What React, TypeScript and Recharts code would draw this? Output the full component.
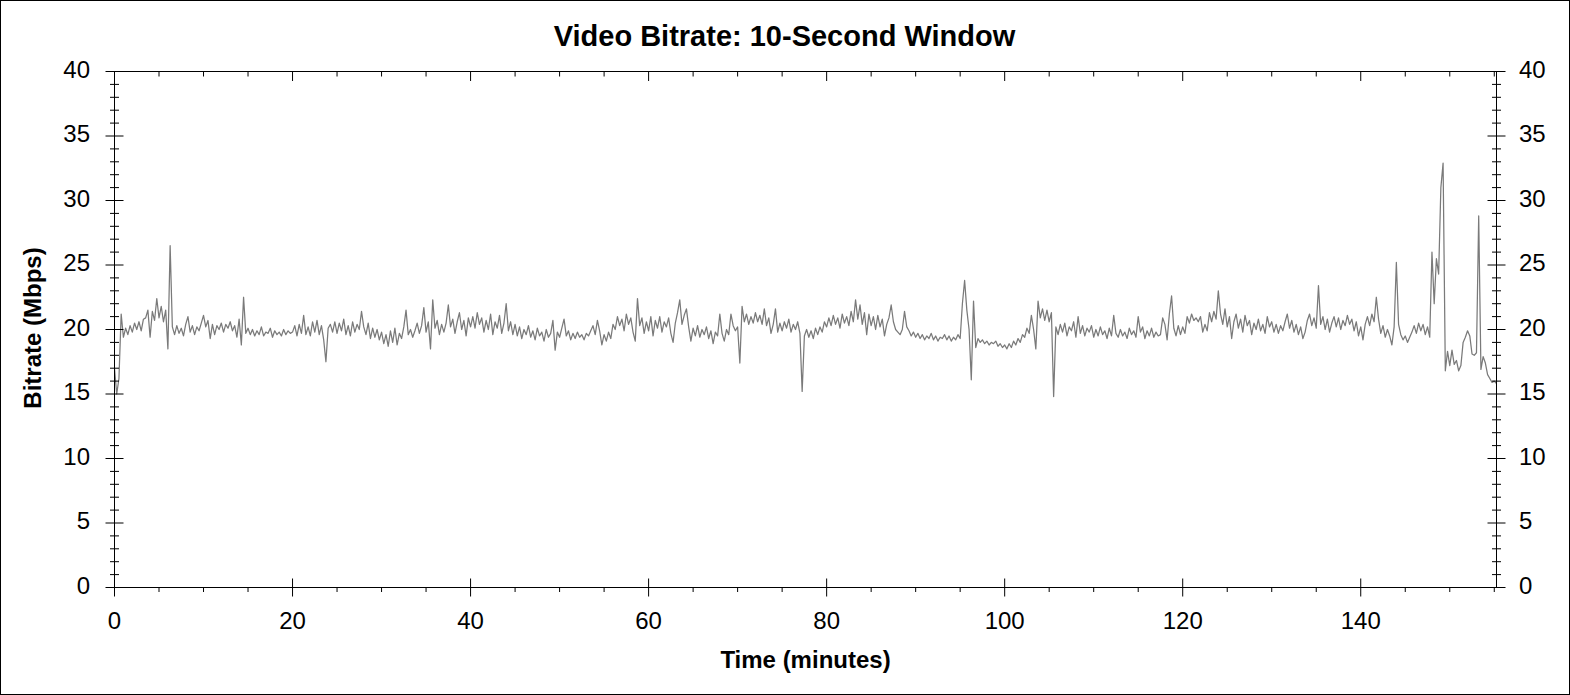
import React from 'react';
import { LineChart, Line, XAxis, YAxis } from 'recharts';

// Sampling grid of the bitrate trace (minutes)
const STEP_MIN = 0.25;

// Video bitrate (Mbps), one value every 0.25 min
const SEG_000_030 = [
  17.0, 15.0, 16.2, 21.2, 19.4, 20.1, 19.6, 20.3, 19.8, 20.5, 20.0, 20.6, 19.9, 20.8, 20.9, 21.5, 19.4, 21.4, 20.7, 22.4,
  20.9, 21.8, 20.6, 21.5, 18.5, 26.5, 20.2, 19.6, 20.3, 19.7, 20.1, 19.5, 20.4, 21.0, 19.8, 20.3, 19.6, 20.2, 19.9, 20.5,
  21.1, 20.2, 20.7, 19.3, 20.4, 19.6, 20.3, 20.0, 20.5, 19.8, 20.4, 20.1, 20.6, 19.9, 20.3, 19.4, 20.8, 18.8, 22.5, 19.7,
  20.1, 19.6, 20.0, 19.5, 19.9, 19.6, 20.2, 19.5, 19.8, 19.7, 20.1, 19.4, 19.9, 19.6, 19.8, 19.5, 20.0, 19.6, 19.9, 19.7,
  19.8, 20.3, 19.5, 20.4, 19.7, 21.1, 19.6, 20.2, 19.5, 20.6, 19.8, 20.7, 19.6, 20.3, 19.2, 17.5, 20.1, 20.4, 19.8, 20.6,
  19.7, 20.5, 19.9, 20.8, 19.6, 20.3, 19.5, 20.6, 19.8, 20.4, 20.0, 21.4, 20.2, 19.6, 20.5, 19.3, 20.1, 19.4, 20.0, 19.2,
];
const SEG_030_060 = [
  19.8, 18.9, 19.6, 18.7, 19.9, 19.0, 20.1, 18.8, 19.7, 19.3, 20.2, 21.5, 19.6, 20.0, 19.4, 19.9, 20.5, 19.7, 20.3, 21.7,
  19.8, 20.6, 18.5, 22.3, 20.1, 20.7, 19.6, 20.4, 19.8, 20.5, 21.9, 20.2, 20.8, 19.7, 20.6, 21.3, 20.0, 20.7, 19.5, 20.9,
  20.2, 21.0, 20.1, 21.3, 20.4, 20.9, 19.8, 20.7, 20.0, 21.2, 19.6, 20.6, 20.1, 21.1, 19.7, 20.5, 22.0, 19.9, 20.6, 19.6,
  20.4, 19.5, 20.2, 19.3, 20.0, 19.6, 20.3, 19.4, 19.9, 19.2, 20.1, 19.5, 19.8, 19.1, 20.0, 19.4, 19.7, 20.7, 18.4, 19.8,
  19.4, 20.1, 20.8, 19.5, 19.9, 19.2, 19.7, 19.3, 19.8, 19.4, 19.6, 19.2, 19.7, 19.5, 19.9, 20.3, 19.6, 20.7, 19.9, 18.8,
  19.6, 19.1, 19.8, 19.3, 20.4, 20.0, 21.0, 20.3, 20.8, 19.9, 21.2, 20.4, 20.9, 19.8, 19.1, 22.4, 20.3, 20.9, 19.7, 20.6,
];
const SEG_060_090 = [
  19.9, 21.0, 19.5, 20.7, 20.1, 21.0, 19.8, 20.6, 20.2, 20.9, 19.7, 19.0, 20.5, 21.3, 22.3, 20.4, 21.1, 21.6, 20.2, 19.1,
  20.1, 19.5, 20.3, 19.4, 20.0, 19.6, 20.2, 19.3, 19.9, 18.9, 19.8, 19.5, 21.2, 19.7, 19.1, 20.0, 19.6, 21.2, 20.3, 19.9,
  20.2, 17.4, 21.8, 20.6, 21.2, 20.4, 21.0, 20.5, 21.3, 20.6, 21.1, 20.4, 21.6, 20.3, 20.9, 19.7, 20.4, 21.6, 19.8, 20.5,
  19.9, 20.6, 20.1, 20.8, 19.8, 20.4, 20.0, 20.6, 19.7, 15.2, 19.5, 20.0, 19.4, 19.9, 19.3, 20.1, 19.6, 20.2, 19.8, 20.6,
  20.2, 20.9, 20.3, 21.1, 20.4, 20.9, 20.1, 21.2, 20.5, 21.0, 20.3, 21.4, 20.6, 22.3, 20.8, 21.9, 20.4, 21.3, 19.6, 21.2,
  20.3, 21.0, 20.0, 21.1, 20.2, 20.8, 19.5, 20.4, 20.9, 21.9, 20.6, 20.0, 19.8, 19.6, 20.0, 21.4, 20.2, 19.9, 19.5, 19.8,
];
const SEG_090_120 = [
  19.4, 19.7, 19.3, 19.6, 19.2, 19.5, 19.3, 19.7, 19.2, 19.5, 19.1, 19.4, 19.3, 19.6, 19.2, 19.5, 19.1, 19.4, 19.2, 19.6,
  19.3, 22.0, 23.8, 21.5, 20.0, 16.1, 22.2, 18.6, 19.3, 19.0, 19.2, 18.9, 19.1, 18.8, 19.0, 18.9, 19.1, 18.7, 18.9, 18.6,
  18.8, 18.5, 18.9, 18.6, 19.1, 18.8, 19.3, 19.0, 19.6, 19.4, 20.1, 19.7, 21.1, 20.0, 18.5, 22.2, 20.9, 21.6, 20.7, 21.5,
  20.6, 21.3, 14.8, 20.2, 19.6, 20.4, 19.8, 20.5, 19.5, 20.2, 19.9, 20.6, 19.4, 21.0, 19.7, 20.3, 19.5, 20.1, 19.8, 20.3,
  19.4, 20.0, 19.5, 20.2, 19.6, 19.9, 19.3, 20.1, 19.5, 21.1, 19.7, 19.4, 20.0, 19.5, 19.8, 19.3, 20.1, 19.6, 19.9, 19.4,
  21.0, 19.8, 20.2, 19.3, 19.9, 19.5, 20.1, 19.4, 19.8, 19.5, 19.6, 20.9, 20.4, 19.2, 21.2, 22.6, 20.1, 19.5, 20.3, 19.6,
];
const SEG_120_150 = [
  20.2, 19.7, 21.0, 20.5, 21.2, 20.7, 20.9, 20.6, 21.0, 19.8, 20.4, 19.9, 21.3, 20.6, 21.4, 20.8, 23.0, 21.2, 20.4, 21.6,
  20.2, 21.0, 19.3, 20.6, 21.2, 20.1, 20.8, 19.8, 21.1, 20.3, 20.7, 19.6, 20.5, 20.0, 20.8, 19.9, 20.4, 19.7, 21.0, 20.2,
  20.6, 19.8, 20.4, 19.7, 20.3, 19.9, 20.6, 21.2, 20.1, 20.7, 19.8, 20.4, 19.6, 20.2, 19.3, 19.8, 20.7, 21.2, 20.3, 20.9,
  20.1, 23.4, 20.4, 21.0, 20.0, 20.8, 19.8, 20.5, 21.0, 20.2, 20.9, 20.0, 20.7, 20.3, 21.1, 20.4, 20.8, 19.9, 20.6, 19.5,
  20.2, 19.2, 20.4, 21.0, 20.3, 21.2, 20.6, 22.5, 20.8, 19.7, 20.3, 19.4, 20.0, 19.5, 18.8, 20.2, 25.2, 20.4, 19.6, 19.2,
  19.5, 19.0, 19.4, 19.8, 20.3, 19.7, 20.5, 19.9, 20.4, 19.6, 20.2, 19.4, 26.0, 22.0, 25.5, 24.3, 31.0, 32.9, 16.8, 18.3,
];
const SEG_150_END = [
  17.2, 18.4, 17.3, 17.6, 16.8, 17.2, 19.0, 19.4, 19.9, 19.5, 18.1, 18.0, 18.2, 28.8, 16.9, 17.9, 17.4, 16.5, 16.2, 15.9,
  16.0, 15.8,
];

const BITRATE = [...SEG_000_030, ...SEG_030_060, ...SEG_060_090, ...SEG_090_120, ...SEG_120_150, ...SEG_150_END];
const data = BITRATE.map((v, i) => ({ t: i * STEP_MIN, v }));

const X_DOMAIN_MAX = 155.25;
const X_TICKS = [0, 5, 10, 15, 20, 25, 30, 35, 40, 45, 50, 55, 60, 65, 70, 75, 80, 85, 90, 95, 100, 105, 110, 115, 120, 125, 130, 135, 140, 145, 150, 155];
const X_LABELS = [0, 20, 40, 60, 80, 100, 120, 140];
const Y_TICKS = [0, 1, 2, 3, 4, 5, 6, 7, 8, 9, 10, 11, 12, 13, 14, 15, 16, 17, 18, 19, 20, 21, 22, 23, 24, 25, 26, 27, 28, 29, 30, 31, 32, 33, 34, 35, 36, 37, 38, 39, 40];
const Y_LABELS = [0, 5, 10, 15, 20, 25, 30, 35, 40];

const TITLE = 'Video Bitrate: 10-Second Window';
const X_TITLE = 'Time (minutes)';
const Y_TITLE = 'Bitrate (Mbps)';

const FONT = '"Liberation Sans", Arial, Helvetica, sans-serif';

function LeftTick(props: any) {
  const { x, y, payload } = props;
  const v = payload.value;
  const major = Y_LABELS.includes(v);
  const h = major ? 9 : 4.5;
  return (
    <g>
      <line x1={x - h} x2={x + h} y1={y} y2={y} stroke="#000" strokeWidth={1} />
      {major && (
        <text x={x - 24.5} y={y + 6} textAnchor="end" fontSize={24} fontFamily={FONT} fill="#000">
          {v}
        </text>
      )}
    </g>
  );
}

function RightTick(props: any) {
  const { x, y, payload } = props;
  const v = payload.value;
  const major = Y_LABELS.includes(v);
  const h = major ? 9 : 4.5;
  return (
    <g>
      <line x1={x - h} x2={x + h} y1={y} y2={y} stroke="#000" strokeWidth={1} />
      {major && (
        <text x={x + 22.5} y={y + 6} textAnchor="start" fontSize={24} fontFamily={FONT} fill="#000">
          {v}
        </text>
      )}
    </g>
  );
}

function BottomTick(props: any) {
  const { x, y, payload } = props;
  const v = payload.value;
  const major = X_LABELS.includes(v);
  return (
    <g>
      {major ? (
        <line x1={x} x2={x} y1={y - 9} y2={y + 9} stroke="#000" strokeWidth={1} />
      ) : (
        <line x1={x} x2={x} y1={y} y2={y + 4.5} stroke="#000" strokeWidth={1} />
      )}
      {major && (
        <text x={x} y={y + 41} textAnchor="middle" fontSize={24} fontFamily={FONT} fill="#000">
          {v}
        </text>
      )}
    </g>
  );
}

function TopTick(props: any) {
  const { x, y, payload } = props;
  const v = payload.value;
  const major = X_LABELS.includes(v);
  return <line x1={x} x2={x} y1={y} y2={y + (major ? 9.5 : 5)} stroke="#000" strokeWidth={1} />;
}

export default function App() {
  return (
    <div style={{ position: 'absolute', left: 0, top: 0, width: 1570, height: 695, background: '#fff' }}>
      <LineChart width={1570} height={695} data={data} margin={{ top: 0, right: 0, bottom: 0, left: 0 }}>
        <XAxis
          xAxisId="bottom"
          dataKey="t"
          type="number"
          domain={[0, X_DOMAIN_MAX]}
          allowDataOverflow
          ticks={X_TICKS}
          interval={0}
          height={107.5}
          orientation="bottom"
          axisLine={{ stroke: '#000', strokeWidth: 1 }}
          tickLine={false}
          tickSize={0}
          tickMargin={0}
          tick={BottomTick}
        />
        <XAxis
          xAxisId="top"
          dataKey="t"
          type="number"
          domain={[0, X_DOMAIN_MAX]}
          allowDataOverflow
          ticks={X_TICKS}
          interval={0}
          height={71.5}
          orientation="top"
          axisLine={{ stroke: '#000', strokeWidth: 1 }}
          tickLine={false}
          tickSize={0}
          tickMargin={0}
          tick={TopTick}
        />
        <YAxis
          yAxisId="left"
          type="number"
          domain={[0, 40]}
          allowDataOverflow
          ticks={Y_TICKS}
          interval={0}
          width={114.5}
          orientation="left"
          axisLine={{ stroke: '#000', strokeWidth: 1 }}
          tickLine={false}
          tickSize={0}
          tickMargin={0}
          tick={LeftTick}
        />
        <YAxis
          yAxisId="right"
          type="number"
          domain={[0, 40]}
          allowDataOverflow
          ticks={Y_TICKS}
          interval={0}
          width={73.5}
          orientation="right"
          axisLine={{ stroke: '#000', strokeWidth: 1 }}
          tickLine={false}
          tickSize={0}
          tickMargin={0}
          tick={RightTick}
        />
        <Line
          xAxisId="bottom"
          yAxisId="left"
          type="linear"
          dataKey="v"
          stroke="#7a7a7a"
          strokeWidth={1.25}
          strokeLinejoin="round"
          dot={false}
          isAnimationActive={false}
        />
      </LineChart>
      <svg width={1570} height={695} style={{ position: 'absolute', left: 0, top: 0, pointerEvents: 'none' }}>
        <rect x={0.5} y={0.5} width={1569} height={694} fill="none" stroke="#000" strokeWidth={1} />
        <text x={784.5} y={46} textAnchor="middle" fontSize={29} fontWeight="bold" fontFamily={FONT} fill="#000">
          {TITLE}
        </text>
        <text x={805.5} y={668} textAnchor="middle" fontSize={24} fontWeight="bold" fontFamily={FONT} fill="#000">
          {X_TITLE}
        </text>
        <text
          x={41}
          y={328}
          transform="rotate(-90, 41, 328)"
          textAnchor="middle"
          fontSize={24}
          fontWeight="bold"
          fontFamily={FONT}
          fill="#000"
        >
          {Y_TITLE}
        </text>
      </svg>
    </div>
  );
}
